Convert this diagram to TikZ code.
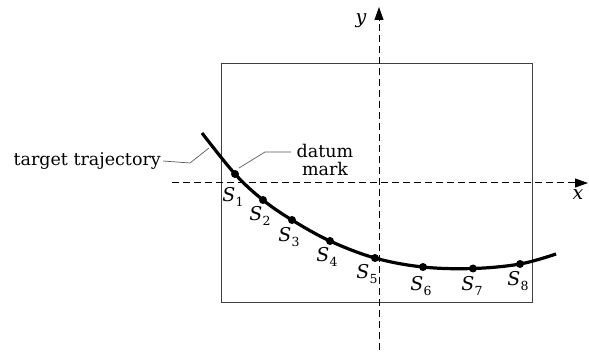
\documentclass[tikz,border=0pt]{standalone}
\usepackage{fontspec}
\setmainfont{DejaVu Serif}
\usetikzlibrary{arrows.meta}
\newcommand{\Slab}[1]{{\fontsize{19}{21}\selectfont\textit{S}}\kern0.3pt\raisebox{-0.5ex}{\fontsize{12.5}{13}\selectfont #1}}
\begin{document}
\begin{tikzpicture}[x=1pt,y=-1pt,
  font=\fontsize{17.5}{18}\selectfont,
  axis/.style={line width=1pt, dash pattern=on 7pt off 4pt, -{Triangle[length=13pt,width=9pt]}},
  frame/.style={draw=black!75, line width=1.1pt, inner sep=0pt, minimum width=311pt, minimum height=239pt, anchor=north west},
  traj/.style={line width=3.2pt},
  dot/.style={circle, fill, inner sep=0pt, minimum size=8pt},
  lead/.style={line width=0.7pt, draw=black!65},
  slab/.style={inner sep=0pt},
  vlab/.style={inner sep=0pt, font=\fontsize{19}{21}\selectfont\itshape}]
\useasboundingbox (0,0) rectangle (589,352);
% frame
\node[frame] (box) at (221,63) {};
% axes
\coordinate (xs) at (172,183);
\coordinate (xe) at (588,183);
\coordinate (ys) at (379,350);
\coordinate (ye) at (379,7);
\draw[axis] (xs) -- (xe);
\draw[axis] (ys) -- (ye);
\node[vlab] (xl) at (578,195) {x};
\node[vlab] (yl) at (361,21) {y};
% trajectory points
\coordinate (c0) at (202,133);
\coordinate (p1) at (235,174);
\coordinate (p2) at (263,200);
\coordinate (p3) at (292,220);
\coordinate (p4) at (330,241);
\coordinate (p5) at (375,258);
\coordinate (p6) at (423,267);
\coordinate (p7) at (473,268.5);
\coordinate (p8) at (520,264);
\coordinate (c9) at (556,254);
\draw[traj] plot[smooth, tension=0.6] coordinates {(c0) (p1) (p2) (p3) (p4) (p5) (p6) (p7) (p8) (c9)};
\foreach \i in {1,...,8} \node[dot] (d\i) at (p\i) {};
% S labels
\node[slab] (s1) at (233,197) {\Slab{1}};
\node[slab] (s2) at (260,216) {\Slab{2}};
\node[slab] (s3) at (289,237) {\Slab{3}};
\node[slab] (s4) at (327,257) {\Slab{4}};
\node[slab] (s5) at (367,274) {\Slab{5}};
\node[slab] (s6) at (421,286) {\Slab{6}};
\node[slab] (s7) at (472,286) {\Slab{7}};
\node[slab] (s8) at (518,281) {\Slab{8}};
% annotations
\node[slab, anchor=east] (tt) at (161,161) {target trajectory};
\coordinate (tk) at (190,163);
\coordinate (te) at (209,148);
\draw[lead] (tt.east) ++(2pt,0) -- (tk) -- (te);
\node[slab, align=center] (dm) at (325,160) {datum\\mark};
\coordinate (dk) at (265,152);
\coordinate (dw) at (291,152);
\coordinate (ds) at (239,168);
\draw[lead] (ds) -- (dk) -- (dw);
\end{tikzpicture}
\end{document}
